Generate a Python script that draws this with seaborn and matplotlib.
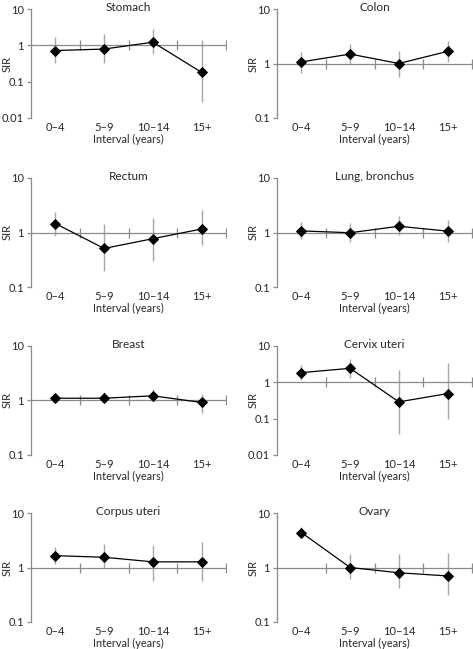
import matplotlib
matplotlib.use("Agg")
import matplotlib.pyplot as plt
import numpy as np
import pandas as pd
import seaborn as sns

# ==================== DATA ====================
intervals = ["0–4", "5–9", "10–14", "15+"]
sites = ["Stomach", "Colon", "Rectum", "Lung, bronchus",
         "Breast", "Cervix uteri", "Corpus uteri", "Ovary"]

stomach_sir = [0.72, 0.79, 1.22, 0.18]
stomach_lo = [0.32, 0.32, 0.57, 0.028]
stomach_hi = [1.72, 2.05, 2.74, 1.4]

colon_sir = [1.07, 1.49, 1.0, 1.67]
colon_lo = [0.67, 0.97, 0.57, 1.07]
colon_hi = [1.6, 2.25, 1.72, 2.6]

rectum_sir = [1.46, 0.51, 0.77, 1.16]
rectum_lo = [0.88, 0.2, 0.3, 0.58]
rectum_hi = [2.4, 1.41, 1.81, 2.57]

lung_sir = [1.07, 0.99, 1.3, 1.06]
lung_lo = [0.76, 0.68, 0.9, 0.67]
lung_hi = [1.58, 1.5, 2.03, 1.69]

breast_sir = [1.1, 1.1, 1.22, 0.92]
breast_lo = [0.93, 0.89, 0.96, 0.59]
breast_hi = [1.34, 1.44, 1.65, 1.32]

cervix_sir = [1.85, 2.43, 0.29, 0.49]
cervix_lo = [1.18, 1.34, 0.039, 0.096]
cervix_hi = [2.94, 4.4, 2.23, 3.5]

corpus_sir = [1.65, 1.54, 1.27, 1.27]
corpus_lo = [1.15, 0.97, 0.57, 0.57]
corpus_hi = [2.4, 2.73, 2.58, 2.97]

ovary_sir = [4.38, 1.0, 0.8, 0.7]
ovary_lo = [3.5, 0.62, 0.42, 0.31]
ovary_hi = [5.56, 1.77, 1.77, 1.87]

sir_data = [stomach_sir, colon_sir, rectum_sir, lung_sir,
            breast_sir, cervix_sir, corpus_sir, ovary_sir]
lo_data = [stomach_lo, colon_lo, rectum_lo, lung_lo,
           breast_lo, cervix_lo, corpus_lo, ovary_lo]
hi_data = [stomach_hi, colon_hi, rectum_hi, lung_hi,
           breast_hi, cervix_hi, corpus_hi, ovary_hi]
y_bottom = [0.01, 0.1, 0.1, 0.1, 0.1, 0.01, 0.1, 0.1]

# ==================== STYLE ====================
sns.set_style("white")
plt.rcParams["font.family"] = ["Lato", "DejaVu Sans"]
plt.rcParams["font.size"] = 8
AXIS_GREY = "#8a8a8a"
ERR_GREY = "#a8a8a8"


def fmt_decade(v):
    return "1" if v == 1 else ("10" if v == 10 else f"{v:g}")


def draw_panel(ax, site, sir, lo, hi, ymin):
    df = pd.DataFrame({"Interval": intervals, "SIR": sir})
    x = np.arange(len(intervals))

    # error bars first so the markers sit on top
    ax.vlines(x, lo, hi, color=ERR_GREY, lw=1.0, zorder=1)
    ax.axhline(1, color=AXIS_GREY, lw=0.9, zorder=1)
    ax.plot(x + 0.5, np.ones(len(x)), ls="none", marker="|",
            ms=7, mew=0.9, color=AXIS_GREY, zorder=1)

    sns.pointplot(data=df, x="Interval", y="SIR", order=intervals,
                  errorbar=None, color="black", markers="D",
                  markersize=5.5, linewidth=0.9, ax=ax, zorder=3)

    ax.set_yscale("log")
    ax.set_ylim(ymin, 10)
    ax.set_xlim(-0.5, 3.5)
    decades = [d for d in [0.01, 0.1, 1, 10] if d >= ymin]
    ax.set_yticks(decades)
    ax.set_yticklabels([fmt_decade(d) for d in decades])
    ax.yaxis.set_minor_locator(matplotlib.ticker.NullLocator())

    for side in ["top", "right", "bottom"]:
        ax.spines[side].set_visible(False)
    ax.spines["left"].set_color(AXIS_GREY)
    ax.spines["left"].set_linewidth(0.9)
    ax.tick_params(axis="y", direction="out", length=3, width=0.9,
                   color=AXIS_GREY, pad=2, labelsize=8, left=True)
    ax.tick_params(axis="x", length=0, pad=3, labelsize=8)

    ax.set_xlabel("Interval (years)", fontsize=7.8, labelpad=0.5)
    ax.set_ylabel("SIR", fontsize=8)
    ax.yaxis.set_label_coords(-0.095, 0.5)
    ax.text(0.5, 1.01, site, transform=ax.transAxes, ha="center",
            va="center", fontsize=8.5)


fig = plt.figure(figsize=(4.73, 6.49), dpi=100)
lefts = [31 / 473, 277 / 473]
bottoms = [1 - 118 / 649, 1 - 287 / 649, 1 - 455 / 649, 1 - 622 / 649]
w = 195 / 473
h = 109 / 649

for i, site in enumerate(sites):
    row, col = divmod(i, 2)
    ax = fig.add_axes([lefts[col], bottoms[row], w, h])
    draw_panel(ax, site, sir_data[i], lo_data[i], hi_data[i], y_bottom[i])

fig.savefig("out.png", dpi=100)
